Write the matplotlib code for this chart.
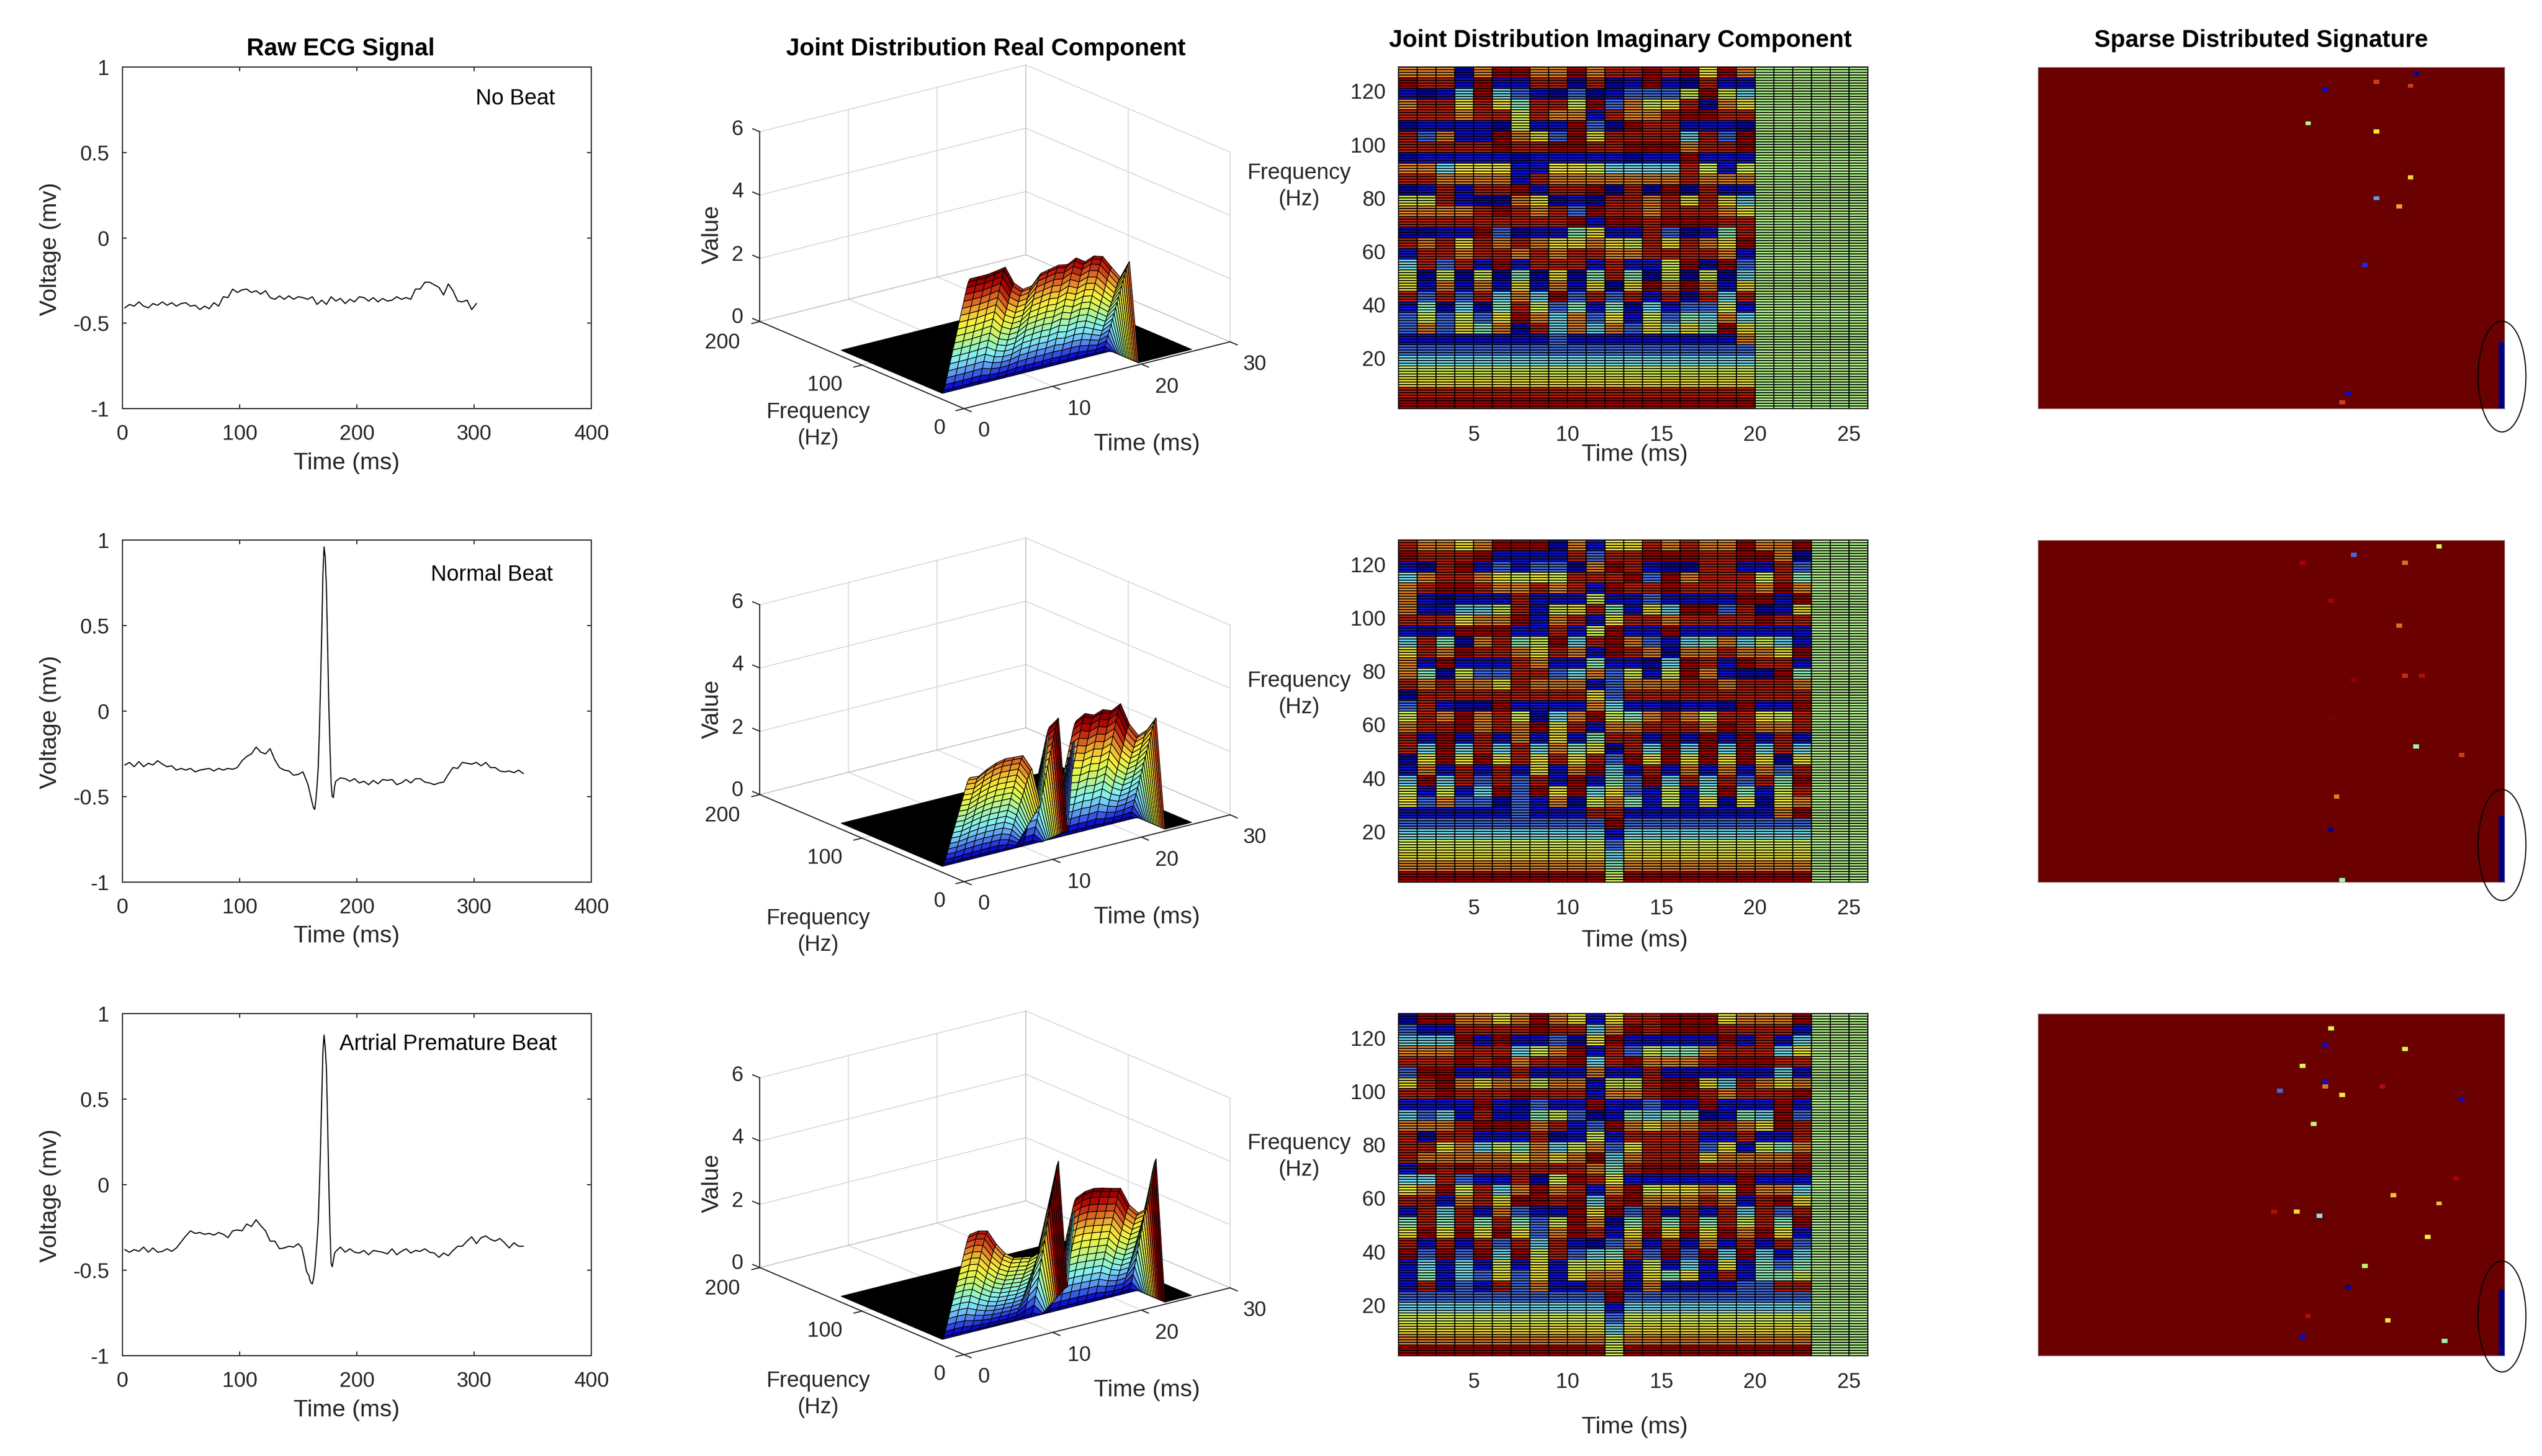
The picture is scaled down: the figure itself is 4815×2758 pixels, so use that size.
import numpy as np
import matplotlib
matplotlib.use('Agg')
import matplotlib.pyplot as plt
from matplotlib.colors import ListedColormap, LinearSegmentedColormap
from matplotlib.patches import Ellipse
from mpl_toolkits.mplot3d import proj3d

plt.rcParams['font.family'] = ['Liberation Sans', 'DejaVu Sans']
W, H = 4815, 2758
DARK = '#262626'
GRID = '#d6d6d6'

# --- raw ecg traces
ecg_t_1 = np.arange(2, 303, 4)
ecg_v_1 = [-.41, -.39, -.40, -.375, -.40, -.41, -.385, -.395, -.375, -.395, -.38, -.40, -.385, -.38, -.40, -.395,
           -.42, -.40, -.415, -.38, -.40, -.345, -.35, -.30, -.32, -.305, -.30, -.32, -.31, -.33, -.31, -.35,
           -.36, -.34, -.36, -.34, -.36, -.345, -.35, -.36, -.345, -.39, -.365, -.39, -.345, -.37, -.355, -.385,
           -.36, -.375, -.345, -.35, -.37, -.35, -.375, -.355, -.37, -.365, -.345, -.36, -.35, -.36, -.30, -.30,
           -.26, -.26, -.275, -.29, -.335, -.27, -.31, -.37, -.375, -.365, -.42, -.385]
ecg_t_2 = np.concatenate([np.arange(2, 155, 4), np.arange(156, 183), np.arange(186, 343, 4)])
ecg_v_2 = [-.315, -.30, -.325, -.295, -.325, -.305, -.315, -.29, -.31, -.325, -.32, -.345, -.335, -.345, -.335,
           -.355, -.345, -.34, -.335, -.35, -.335, -.345, -.335, -.34, -.33, -.29, -.265, -.25, -.21, -.24, -.25,
           -.22, -.285, -.33, -.345, -.35, -.375, -.37, -.355,
           -.39, -.405, -.425, -.45, -.48, -.51, -.54, -.565, -.575, -.52, -.44, -.33, -.12, .15, .45, .8, .96, .9,
           .72, .4, .05, -.2, -.42, -.5, -.505, -.44, -.41,
           -.39, -.395, -.41, -.395, -.42, -.41, -.43, -.405, -.425, -.40, -.405, -.40, -.43, -.42, -.40, -.42,
           -.395, -.395, -.415, -.42, -.43, -.42, -.415, -.37, -.33, -.335, -.30, -.305, -.31, -.30, -.32, -.30,
           -.33, -.33, -.35, -.355, -.35, -.36, -.345, -.365]
ecg_t_3 = np.concatenate([np.arange(2, 151, 4), np.arange(152, 183), np.arange(186, 343, 4)])
ecg_v_3 = [-.38, -.395, -.38, -.39, -.365, -.395, -.37, -.395, -.39, -.375, -.39, -.37, -.335, -.30, -.27, -.285,
           -.28, -.29, -.285, -.295, -.28, -.29, -.31, -.27, -.265, -.27, -.23, -.245, -.205, -.24, -.27, -.33,
           -.33, -.375, -.37, -.36, -.365, -.345,
           -.36, -.37, -.40, -.43, -.47, -.505, -.52, -.53, -.56, -.575, -.58, -.55, -.50, -.42, -.33, -.22, -.02,
           .22, .5, .78, .875, .8, .68, .38, .02, -.25, -.46, -.48, -.44, -.40, -.39,
           -.365, -.395, -.375, -.395, -.40, -.385, -.41, -.385, -.39, -.395, -.405, -.375, -.41, -.39, -.375, -.40,
           -.385, -.39, -.375, -.395, -.40, -.425, -.40, -.415, -.385, -.36, -.36, -.33, -.305, -.345, -.31, -.30,
           -.32, -.33, -.315, -.34, -.37, -.34, -.36, -.36]
beat_names = ['No Beat', 'Normal Beat', 'Artrial Premature Beat']
beat_x = [335, 315, 278]
beat_y = [.816, .797, .82]

# --- real component: ridge height at the low frequency edge, per time node
ridge_1 = [3.99, 3.99, 3.99, 4.03, 4.08, 3.5, 3.24, 3.28, 3.6, 3.66, 3.72, 3.67, 3.81, 3.62, 3.73, 3.64, 3.23, 2.83,
           3.27, 0, 0, 0, 0, 0, 0, 0]
ridge_2 = [3.18, 3.15, 3.31, 3.43, 3.49, 3.47, 3.45, 2.96, 1.73, 4.15, 4.36, .7, 4.13, 4.29, 4.17, 4.27, 4.17, 4.32,
           3.6, 3.17, 3.28, 3.59, 0, 0, 0, 0]
ridge_3 = [3.69, 3.73, 3.66, 3.17, 2.8, 2.6, 2.55, 2.5, 2.6, 4.0, 5.3, 1.25, 4.0, 4.13, 4.16, 4.1, 4.02, 3.95,
           3.35, 3.03, 3.1, 4.6, 0, 0, 0, 0]
ridge_top = [4.08, 4.32, 4.2]
wall_profile = [1.0, .97, .92, .86, .80, .74, .68, .62, .56, .50, .44, .38, .32, .26, .20, .14, .08, .03]

# --- imaginary component: colour level per column, top to bottom, four rows per letter
levels = [.04, .08, .16, .28, .385, .52, .62, .75, .87, .93]
pad_level = .445
tail_1 = '235689'
tail_23 = '235679'
imag_1 = ['79178088078057808135681221', '78088128178157807880124571', '78188178137887818825780221',
          '01367118167117816780123561', '79988118167808898815780241', '91368099167809827890134671',
          '91245578011978808714678901', '78188168118167817880135781', '78087129167808816786792332',
          '90257999167812946880124771', '78091268157909167814681231', '80128088137088916788024671',
          '81277989037888915714680121', '99257889137077888810913561', '81268889137988926855781231',
          '90589137988068908890902461', '68909188157888917805782341', '91578128117167846790135791',
          '71368099157136889123681367']
imag_2 = ['89137778136778025788013561', '78078118088147888813679121', '78889018147908817899913571',
          '68989136909157809913688121', '79178137978127807788912321', '91267157988126898813688901',
          '91157889147888815778812222', '91268111156787810913668911', '01257157898127813667811671',
          '78088168137137817814679901', '12781581581471679146891358', '68989146999122235780234678912345',
          '68898118178157814788912241', '89128268127017817813689111', '79099137910357808899913551',
          '89078198137998817813678111', '78888198147878815799913461', '78888128178117808913678901',
          '99188988137908898899912461', '79157909157808816713678101', '77889118136898815788024567',
          '90247968119147898813689879']
imag_3 = ['02378268137888136814689111', '91378988127087937888912348', '91378999137867889134689111',
          '78989178118877925788912332', '78188168989137818814689121', '68989178119157813678923568',
          '78137879019146887924689122', '99158158247877809912235667', '78278178158036857815788111',
          '68099178121157898999912561', '13613711902579781367803578', '67988157119123467890124678912355',
          '89129157147867819924678111', '88157888236888915788912567', '99147199147888916714689141',
          '99147199147888916788912361', '99178168908126817814679111', '68989137118167815788913681',
          '78189188147817899135789112', '78889178136157817888913442', '78138368999147817924681248',
          '91368179128878913689123458']

# --- sparse signature: column, row from top, colour value
sparse_c_1 = [66, 59, 65, 50, 47, 59, 65, 59, 63, 57, 54, 53]
sparse_r_1 = [1, 3, 4, 5, 13, 15, 26, 31, 33, 47, 78, 80]
sparse_v_1 = [.01, .83, .83, .07, .46, .615, .66, .2, .72, .1, .07, .83]
sparse_c_2 = [70, 55, 46, 64, 51, 63, 64, 67, 55, 51, 66, 74, 52, 51, 53]
sparse_r_2 = [1, 3, 5, 5, 14, 20, 32, 32, 33, 42, 49, 51, 61, 69, 81]
sparse_v_2 = [.54, .15, .92, .78, .92, .78, .85, .9, .95, .99, .385, .83, .76, .01, .385]
sparse_c_3 = [51, 50, 64, 46, 50, 50, 60, 42, 53, 74, 48, 73, 62, 70, 41, 45, 49, 68, 57, 54, 47, 61, 46, 71]
sparse_r_3 = [3, 7, 8, 12, 16, 17, 17, 18, 19, 20, 26, 39, 43, 45, 47, 47, 48, 53, 60, 65, 72, 73, 77, 78]
sparse_v_3 = [.54, .07, .54, .54, .07, .77, .9, .15, .615, .07, .47, .92, .69, .69, .9, .64, .3, .615, .47, .01, .9,
              .615, .07, .385]
bar_start = [66, 66, 66]
ellipse_top = [61, 59.8, 59.3]
ellipse_bot = [87.6, 86.4, 85.9]

titles = ['Raw ECG Signal', 'Joint Distribution Real Component', 'Joint Distribution Imaginary Component',
          'Sparse Distributed Signature']
title_x = [645, 1867, 3069, 4283]
title_y = [93, 93, 77, 77]

# layout in pixels of the output
row_top = [127, 1023, 1920]
row_bot = [774, 1671, 2568]
near_y = [774, 1670, 2566]
time_label_y = [862, 1781, 2704]
freq_left_y = [806, 1765, 2641]
time3d_y = [841, 1738, 2633]
freq_right_y = [353, 1315, 2191]
value_y = [444, 1343, 2241]

palette = ['#000082', '#0f0fd7', '#466ee6', '#6ebef5', '#82f0f0', '#96f5be', '#bef582', '#dcf550', '#faeb3c',
           '#f0be32', '#e17828', '#c83214', '#aa0000', '#730000']
bright_jet = LinearSegmentedColormap.from_list('bright_jet', palette, N=256)
sparse_colors = bright_jet(np.linspace(0, 1, 256))
sparse_colors[-1] = matplotlib.colors.to_rgba('#6b0000')
sparse_cmap = ListedColormap(sparse_colors)

fig = plt.figure(figsize=(W / 300, H / 300), dpi=300)


def rect(x0, y0, x1, y1):
    return [x0 / W, 1 - y1 / H, (x1 - x0) / W, (y1 - y0) / H]


def ptext(x, y, s, **kw):
    kw.setdefault('color', DARK)
    kw.setdefault('fontsize', 10.8)
    fig.text(x / W, 1 - y / H, s, ha='center', va='center', **kw)


def ecg_panel(r, t, v):
    ax = fig.add_axes(rect(232, row_top[r], 1120, row_bot[r]))
    ax.plot(t, v, color='k', lw=.5)
    ax.set(xlim=(0, 400), ylim=(-1, 1), xticks=[0, 100, 200, 300, 400], yticks=[-1, -.5, 0, .5, 1])
    ax.set_yticklabels(['-1', '-0.5', '0', '0.5', '1'])
    ax.tick_params(direction='in', length=1.9, width=.5, color=DARK, labelcolor=DARK, labelsize=9.6, top=True,
                   right=True)
    ax.tick_params(axis='x', pad=7)
    ax.tick_params(axis='y', pad=6)
    for s in ax.spines.values():
        s.set_linewidth(.5)
        s.set_color(DARK)
    ax.text(beat_x[r], beat_y[r], beat_names[r], ha='center', va='center', fontsize=10, color='k')
    ptext(657, row_bot[r] + 103, 'Time (ms)')
    ptext(96, row_top[r] + 345, 'Voltage (mv)', rotation=90)


def surface_panel(r, ridge):
    ax = fig.add_axes(rect(1300, row_top[r] - 100, 2400, row_top[r] + 1000), projection='3d')
    ax.set_proj_type('ortho')
    ax.view_init(elev=19.1, azim=-127.5)
    ax.set_box_aspect((633, 633, 379))
    ax.set(xlim=(0, 30), ylim=(0, 200), zlim=(0, 6))
    ax.set_axis_off()
    ax.patch.set_alpha(0)
    ax.computed_zorder = False

    # scale and move the axes so the box corners land where they do in the reference
    target = np.array([1826, H - near_y[r]], float)
    width = 2330 - 1826
    for _ in range(3):
        fig.canvas.draw()
        a = ax.transData.transform(proj3d.proj_transform(0, 0, 0, ax.get_proj())[:2])
        b = ax.transData.transform(proj3d.proj_transform(30, 0, 0, ax.get_proj())[:2])
        s = width / (b[0] - a[0])
        box = ax.get_position()
        cen = np.array([(box.x0 + box.x1) / 2 * W, (box.y0 + box.y1) / 2 * H])
        new_cen = target - (a - cen) * s
        w, h = box.width * s, box.height * s
        ax.set_position([new_cen[0] / W - w / 2, new_cen[1] / H - h / 2, w, h])

    def seg(p, q, color=GRID, lw=.4):
        ax.plot([p[0], q[0]], [p[1], q[1]], [p[2], q[2]], color=color, lw=lw, zorder=1, clip_on=False)

    # back walls and floor
    for zv in [2, 4, 6]:
        seg((0, 200, zv), (30, 200, zv))
        seg((30, 200, zv), (30, 0, zv))
    for tv in [10, 20]:
        seg((tv, 200, 0), (tv, 200, 6))
        seg((tv, 0, 0), (tv, 200, 0))
    seg((30, 100, 0), (30, 100, 6))
    seg((0, 100, 0), (30, 100, 0))
    seg((30, 200, 0), (30, 200, 6), color='#bdbdbd')
    seg((30, 0, 0), (30, 0, 6))
    seg((0, 200, 0), (30, 200, 0), color='#bdbdbd')
    seg((30, 0, 0), (30, 200, 0), color='#bdbdbd')
    # dark axis lines and ticks
    seg((0, 0, 0), (0, 200, 0), DARK, .5)
    seg((0, 0, 0), (30, 0, 0), DARK, .5)
    seg((0, 200, 0), (0, 200, 6), DARK, .5)
    for zv in [0, 2, 4, 6]:
        seg((0, 200, zv), (0, 207, zv), DARK, .5)
    for fv in [0, 100, 200]:
        seg((0, fv, 0), (-.9, fv, 0), DARK, .5)
    for tv in [0, 10, 20, 30]:
        seg((tv, 0, 0), (tv, -7, 0), DARK, .5)

    freq = np.arange(3, 130, 1.5)
    time = np.arange(1, 27)
    prof = np.zeros(len(freq))
    prof[:len(wall_profile)] = wall_profile
    Z = np.outer(prof, ridge)
    T, F = np.meshgrid(time, freq)
    faces = bright_jet(np.clip(Z / ridge_top[r], 0, 1))
    faces[Z == 0] = (0, 0, 0, 1)
    ax.plot_surface(T, F, Z, facecolors=faces, rstride=1, cstride=1, shade=False, edgecolor='k', linewidth=.3,
                    zorder=3)

    dy = near_y[r] - near_y[0] + 3
    for lab, y in zip(['6', '4', '2', '0'], [241.5, 360.5, 479.6, 598]):
        ptext(1397, y + dy, lab, fontsize=9.6)
    for lab, x, y in zip(['200', '100', '0'], [1368, 1562, 1780], [646, 726, 807.6]):
        ptext(x, y + dy, lab, fontsize=9.6)
    for lab, x, y in zip(['0', '10', '20', '30'], [1864, 2044, 2210, 2377], [813, 772, 730, 687]):
        ptext(x, y + dy, lab, fontsize=9.6)
    ptext(1349, value_y[r], 'Value', rotation=90)
    ptext(1550, freq_left_y[r], 'Frequency\n(Hz)', linespacing=1.35, fontsize=10)
    ptext(2172, time3d_y[r], 'Time (ms)')
    ptext(2461, freq_right_y[r], 'Frequency\n(Hz)', linespacing=1.35, fontsize=10)


def imag_panel(r, cols, tail):
    ax = fig.add_axes(rect(2649, row_top[r], 3538, row_bot[r]))
    M = np.array([[levels[int(ch)] for ch in (c if len(c) == 32 else c + tail)] for c in cols]).T
    fine = np.repeat(M[::-1], 4, axis=0)
    full = np.full((128, 25), pad_level)
    full[:, :fine.shape[1]] = fine
    # snapping off, otherwise the cell lines jump between one and two pixels
    ax.pcolormesh(np.arange(1, 27), np.arange(1, 130), full, cmap=bright_jet, vmin=0, vmax=1, edgecolors='k',
                  linewidth=.45, antialiased=True, snap=False)
    ax.set(xlim=(1, 26), ylim=(1, 129), xticks=[5, 10, 15, 20, 25], yticks=[20, 40, 60, 80, 100, 120])
    ax.tick_params(length=0, labelcolor=DARK, labelsize=9.6)
    ax.tick_params(axis='x', pad=7.4)
    ax.tick_params(axis='y', pad=5.8)
    for s in ax.spines.values():
        s.set_linewidth(.5)
        s.set_color('k')
    ptext(3096, time_label_y[r], 'Time (ms)')


def sparse_panel(r, c, rr, v):
    ax = fig.add_axes(rect(3860, row_top[r], 4744, row_bot[r]))
    grid = np.ones((82, 82))
    grid[rr, c] = v
    grid[bar_start[r]:, 81] = 0
    ax.imshow(grid, cmap=sparse_cmap, vmin=0, vmax=1, aspect='auto', interpolation='nearest',
              extent=(0, 82, 82, 0))
    ax.set(xticks=[], yticks=[])
    for s in ax.spines.values():
        s.set_linewidth(.3)
        s.set_color('#b0a0a0')
    ax.add_patch(Ellipse((81.56, (ellipse_top[r] + ellipse_bot[r]) / 2), 8.4, ellipse_bot[r] - ellipse_top[r],
                         fill=False, edgecolor='k', lw=.5, clip_on=False, zorder=5))


ecg_panel(0, ecg_t_1, ecg_v_1)
ecg_panel(1, ecg_t_2, ecg_v_2)
ecg_panel(2, ecg_t_3, ecg_v_3)
surface_panel(0, ridge_1)
surface_panel(1, ridge_2)
surface_panel(2, ridge_3)
imag_panel(0, imag_1, tail_1)
imag_panel(1, imag_2, tail_23)
imag_panel(2, imag_3, tail_23)
sparse_panel(0, sparse_c_1, sparse_r_1, sparse_v_1)
sparse_panel(1, sparse_c_2, sparse_r_2, sparse_v_2)
sparse_panel(2, sparse_c_3, sparse_r_3, sparse_v_3)

for s, x, y in zip(titles, title_x, title_y):
    ptext(x, y, s, fontsize=11, fontweight='bold', color='k')

plt.savefig('out.png', dpi=300)
